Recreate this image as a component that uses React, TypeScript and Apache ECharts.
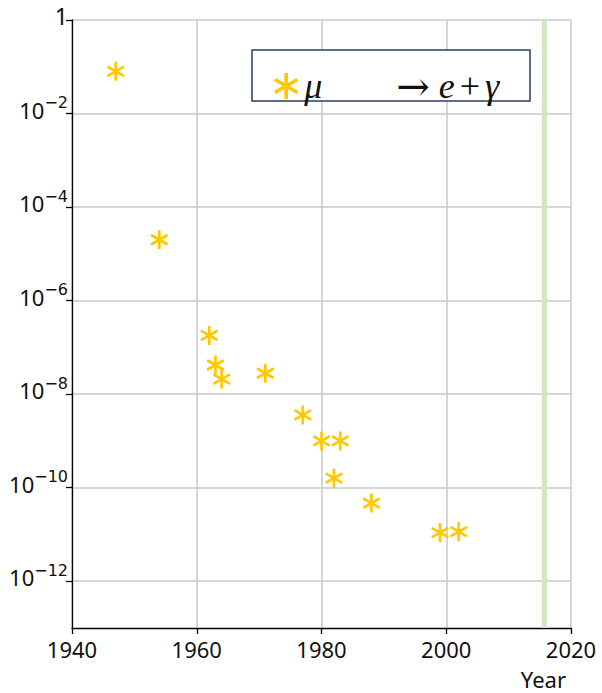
import React, { useEffect, useRef } from "react";
import * as echarts from "echarts";

const seriesName = "μ → e + γ";
const years = [1947, 1954, 1962, 1963, 1964, 1971, 1977, 1980, 1982, 1983, 1988, 1999, 2002];
const limits = [8e-2, 2e-5, 1.8e-7, 4.2e-8, 2.1e-8, 2.8e-8, 3.6e-9, 1e-9, 1.6e-10, 1e-9, 4.7e-11, 1.1e-11, 1.15e-11];
const yTicks = [1, 1e-2, 1e-4, 1e-6, 1e-8, 1e-10, 1e-12];
const xTicks = [1940, 1960, 1980, 2000, 2020];
const highlightYear = [2015.7];

const starPath =
  "path://M-1.4,-10L1.4,-10L1.4,10L-1.4,10Z" +
  "M-9.36,-3.79L-7.96,-6.21L9.36,3.79L7.96,6.21Z" +
  "M-7.96,6.21L-9.36,3.79L7.96,-6.21L9.36,-3.79Z";

const GOLD = "#ffc800";
const FONT = "Noto Sans";

export default function App() {
  const ref = useRef<HTMLDivElement>(null);
  useEffect(() => {
    if (!ref.current) return;
    const chart = echarts.init(ref.current, undefined, { renderer: "svg" });
    const data = years.map((y, i) => [y, limits[i]]);
    chart.setOption({
      animation: false,
      backgroundColor: "#ffffff",
      grid: { left: 72, right: 31, top: 20, bottom: 65, containLabel: false },
      xAxis: {
        type: "value",
        min: 1940,
        max: 2020,
        interval: 20,
        name: "Year",
        nameLocation: "end",
        nameGap: 0,
        nameTextStyle: {
          fontFamily: FONT,
          fontSize: 22,
          color: "#111",
          align: "right",
          verticalAlign: "top",
          padding: [40, 5, 0, 0],
        },
        axisLine: { show: true, onZero: false, lineStyle: { color: "#000", width: 1.3 } },
        axisTick: { show: true, inside: false, length: 6, lineStyle: { color: "#000", width: 1.3 }, customValues: xTicks },
        axisLabel: {
          fontFamily: FONT,
          fontSize: 22,
          color: "#111",
          margin: 10,
          customValues: xTicks,
          formatter: (v: number) => String(Math.round(v)),
        },
        splitLine: { show: true, lineStyle: { color: "#c8c8c8", width: 1.5 } },
      },
      yAxis: {
        type: "log",
        logBase: 10,
        min: 1e-13,
        max: 1,
        axisLine: { show: true, onZero: false, lineStyle: { color: "#000", width: 1.3 } },
        axisTick: { show: true, inside: false, length: 6, lineStyle: { color: "#000", width: 1.3 }, customValues: yTicks },
        axisLabel: {
          customValues: yTicks,
          margin: 4,
          color: "#111",
          fontFamily: FONT,
          padding: [0, 0, 8, 0],
          formatter: (v: number) => {
            const e = Math.round(Math.log10(v));
            if (e === 0) return "{one|1}";
            return `{b|10}{s|−${-e}}`;
          },
          rich: {
            one: { fontFamily: FONT, fontSize: 23, color: "#111", lineHeight: 30 },
            b: { fontFamily: FONT, fontSize: 22, color: "#111", lineHeight: 30 },
            s: { fontFamily: "DejaVu Sans", fontSize: 16, color: "#111", lineHeight: 17, verticalAlign: "top" },
          },
        },
        splitLine: { show: true, lineStyle: { color: "#c8c8c8", width: 1.5 } },
      },
      legend: {
        show: true,
        left: 269,
        top: 61,
        itemWidth: 26,
        itemHeight: 26,
        itemGap: 0,
        z: 10,
        data: [{ name: seriesName, icon: starPath }],
        formatter: () => "{m|μ}{g|}{a|→}{sp1|}{m|e}{sp2|}{p|+}{sp2|}{m|γ}",
        textStyle: {
          rich: {
            m: { fontFamily: "Liberation Serif", fontStyle: "italic", fontSize: 36, color: "#111" },
            g: { width: 74 },
            sp1: { width: 9 },
            sp2: { width: 5 },
            a: { fontFamily: "DejaVu Serif", fontSize: 40, color: "#111" },
            p: { fontFamily: "Liberation Serif", fontSize: 36, color: "#111" },
          },
        },
      },
      graphic: [
        {
          type: "rect",
          z: 9,
          shape: { x: 252, y: 50, width: 278, height: 51 },
          style: { fill: "#ffffff", stroke: "#2a3f5f", lineWidth: 1.5 },
        },
      ],
      series: [
        {
          name: seriesName,
          type: "scatter",
          symbol: starPath,
          symbolSize: [18, 19],
          itemStyle: { color: GOLD, opacity: 1 },
          data,
          z: 5,
          markLine: {
            silent: true,
            symbol: "none",
            label: { show: false },
            lineStyle: { color: "#d3e6c4", width: 5, type: "solid" },
            data: highlightYear.map((x) => ({ xAxis: x })),
            z: 1,
          },
        },
      ],
    });
    return () => chart.dispose();
  }, []);
  return <div ref={ref} style={{ width: 602, height: 693, position: "absolute", left: 0, top: 0 }} />;
}
